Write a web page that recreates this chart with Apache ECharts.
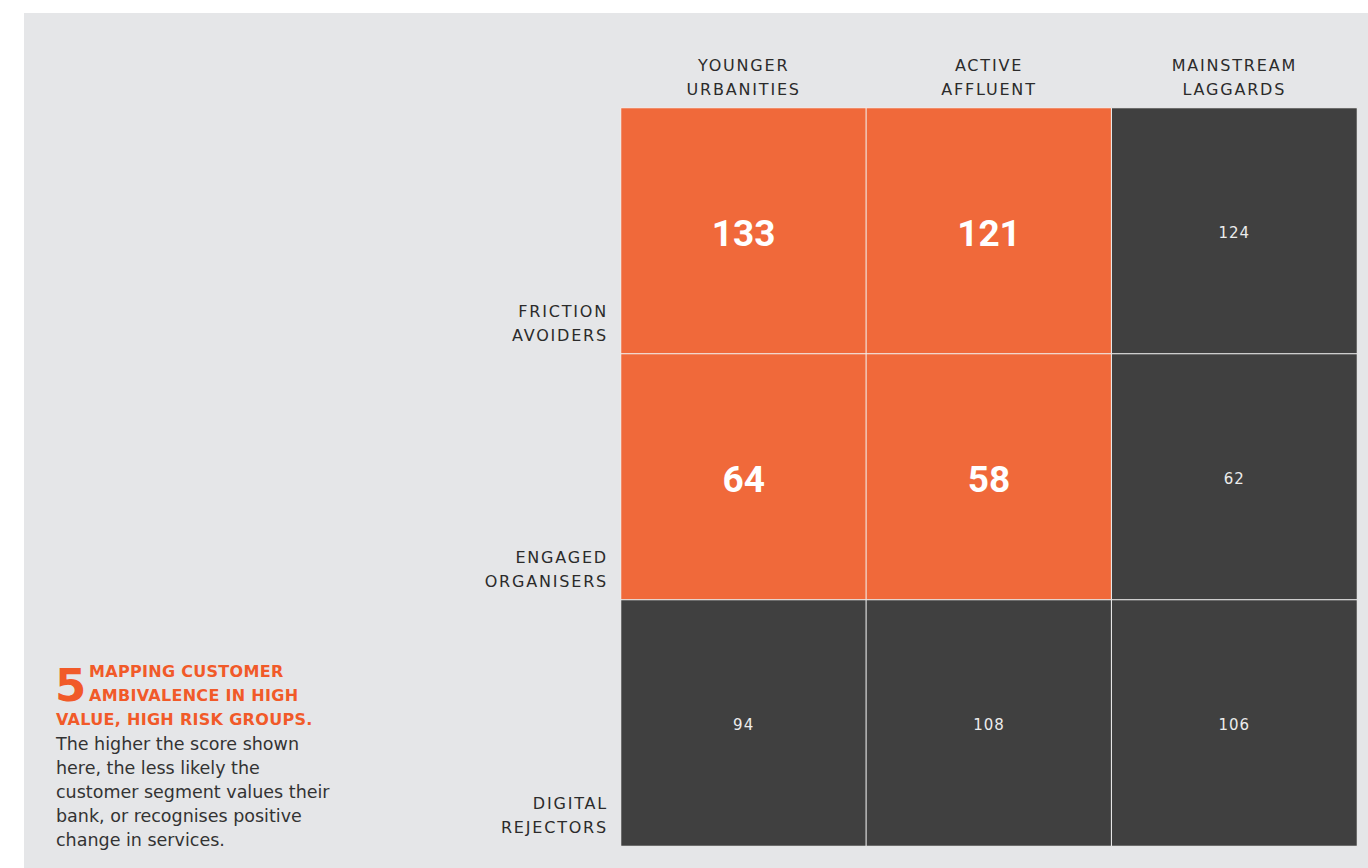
<!DOCTYPE html>
<html>
<head>
<meta charset="utf-8">
<script src="https://cdn.jsdelivr.net/npm/echarts@6/dist/echarts.min.js"></script>
<style>
  html, body { margin: 0; padding: 0; background: #ffffff; }
  #chart { width: 1368px; height: 868px; }
  #chart text[style*="16px"] { letter-spacing: 1.8px; }
  #chart text[style*="bold 16px"] { letter-spacing: 0.3px; }
  #chart text[style*="15px"] { letter-spacing: 1px; }
</style>
</head>
<body>
<div id="chart"></div>
<script>
// ---- data ----
const columns = ['YOUNGER\nURBANITIES', 'ACTIVE\nAFFLUENT', 'MAINSTREAM\nLAGGARDS'];
const rows = ['FRICTION\nAVOIDERS', 'ENGAGED\nORGANISERS', 'DIGITAL\nREJECTORS'];
// values[row][col]
const frictionAvoiders = [133, 121, 124];
const engagedOrganisers = [64, 58, 62];
const digitalRejectors = [94, 108, 106];
// 1 = highlighted (high value, high risk) cell
const highlightFriction = [1, 1, 0];
const highlightEngaged = [1, 1, 0];
const highlightDigital = [0, 0, 0];

const titleNumber = '5';
const titleLines = ['MAPPING CUSTOMER', 'AMBIVALENCE IN HIGH', 'VALUE, HIGH RISK GROUPS.'];
const bodyLines = ['The higher the score shown', 'here, the less likely the', 'customer segment values their', 'bank, or recognises positive', 'change in services.'];

// ---- build ----
const ORANGE = '#f0693a';
const DARK = '#404040';
const TITLE_ORANGE = '#f15a29';
const TEXT = '#2b2b2b';
const FONT = 'DejaVu Sans';

const valueRows = [frictionAvoiders, engagedOrganisers, digitalRejectors];
const flagRows = [highlightFriction, highlightEngaged, highlightDigital];

const bigLabel = { color: '#ffffff', fontSize: 37, fontWeight: 'bold', fontFamily: 'Roboto', offset: [0, 2] };
const smallLabel = { color: '#ececec', fontSize: 15, fontWeight: 'normal', fontFamily: FONT, offset: [0, 2] };

const heatData = [];
valueRows.forEach((vals, r) => {
  vals.forEach((v, c) => {
    const f = flagRows[r][c];
    heatData.push({ value: [c, r, v, f], label: f ? bigLabel : smallLabel });
  });
});

const chart = echarts.init(document.getElementById('chart'), null, { renderer: 'svg' });
chart.setOption({
  backgroundColor: '#ffffff',
  animation: false,
  grid: { left: 621, top: 108, width: 736, height: 738, containLabel: false },
  xAxis: {
    type: 'category', position: 'top', data: columns,
    axisLine: { show: false }, axisTick: { show: false }, splitLine: { show: false },
    axisLabel: { color: TEXT, fontFamily: FONT, fontSize: 16, lineHeight: 24, margin: 7, interval: 0 }
  },
  yAxis: {
    type: 'category', inverse: true, data: rows,
    axisLine: { show: false }, axisTick: { show: false }, splitLine: { show: false },
    axisLabel: { color: TEXT, fontFamily: FONT, fontSize: 16, lineHeight: 24, margin: 13, interval: 0,
                 align: 'right', verticalAlign: 'top', padding: [68, 0, 0, 0] }
  },
  visualMap: {
    show: false, type: 'piecewise', dimension: 3, seriesIndex: 0,
    pieces: [{ value: 1, color: ORANGE }, { value: 0, color: DARK }]
  },
  series: [{
    type: 'heatmap',
    data: heatData,
    itemStyle: { borderColor: '#f2f2f2', borderWidth: 1 },
    label: { show: true, formatter: p => String(p.value[2]) },
    emphasis: { disabled: true }
  }],
  graphic: [
    { type: 'rect', z: -10, shape: { x: 24, y: 13, width: 1344, height: 855 }, style: { fill: '#e5e6e8' }, silent: true },
    { type: 'text', x: 55, y: 685, style: { text: titleNumber, fill: TITLE_ORANGE, font: 'bold 45px "DejaVu Sans"', verticalAlign: 'middle' } },
    { type: 'text', x: 89, y: 671, style: { text: titleLines[0], fill: TITLE_ORANGE, font: 'bold 16px "DejaVu Sans"', verticalAlign: 'middle' } },
    { type: 'text', x: 89, y: 695, style: { text: titleLines[1], fill: TITLE_ORANGE, font: 'bold 16px "DejaVu Sans"', verticalAlign: 'middle' } },
    { type: 'text', x: 56, y: 719, style: { text: titleLines[2], fill: TITLE_ORANGE, font: 'bold 16px "DejaVu Sans"', verticalAlign: 'middle' } },
    { type: 'text', x: 56, y: 732, style: { text: bodyLines.join('\n'), fill: '#333333', font: '17.5px "DejaVu Sans"', lineHeight: 24, verticalAlign: 'top' } }
  ]
});
</script>
</body>
</html>
